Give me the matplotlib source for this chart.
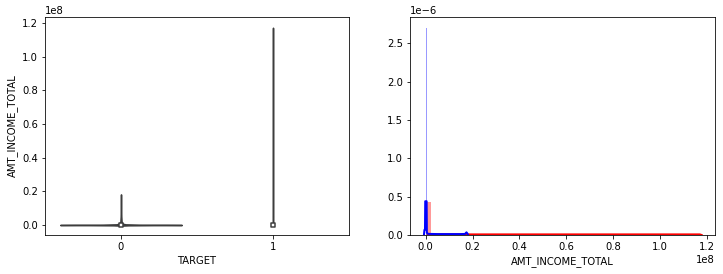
import numpy as np
import matplotlib
matplotlib.use('Agg')
from matplotlib import pyplot as plt

# violin profiles (income value, half width of violin)
target_groups = [0, 1]
violin0_y = [-4e5, -2e5, 0, 1e5, 2e5, 4e5, 8e5, 2e6, 5e6, 1e7, 1.8e7, 1.82e7]
violin0_w = [0.0, 0.05, 0.40, 0.30, 0.12, 0.03, 0.01, 0.004, 0.002, 0.001, 0.001, 0.0]
violin1_y = [-1e5, 0, 2e5, 1e6, 1e7, 5e7, 1.17e8, 1.172e8]
violin1_w = [0.0, 0.004, 0.003, 0.001, 0.0005, 0.0005, 0.0005, 0.0]

# inner box stats per group
box_q25 = [1.125e5, 1.125e5]
box_med = [1.47e5, 1.35e5]
box_q75 = [2.025e5, 2.025e5]
box_lo = [2.565e4, 2.565e4]
box_hi = [3.37e5, 3.37e5]

# histograms (density), 50 bins each
hist0_range = (2.565e4, 1.8e7)
hist0_density = [2.70e-6, 0.07e-6, 0.01e-6] + [0.0] * 47
hist1_range = (2.565e4, 1.17e8)
hist1_density = [0.43e-6] + [0.0] * 49

# kde curves
kde0_x = [-0.0075e8, -0.006e8, -0.005e8, -0.004e8, -0.003e8, -0.002e8, 0.004e8, 0.005e8,
          0.01e8, 0.05e8, 0.1e8, 0.15e8, 0.168e8, 0.174e8, 0.178e8, 0.181e8]
kde0_y = [0.0, 0.05e-6, 0.07e-6, 0.07e-6, 0.07e-6, 0.44e-6, 0.44e-6, 0.03e-6,
          0.015e-6, 0.012e-6, 0.012e-6, 0.012e-6, 0.014e-6, 0.035e-6, 0.02e-6, 0.0]
kde1_x = [0.01e8, 0.2e8, 0.5e8, 1.0e8, 1.17e8, 1.178e8]
kde1_y = [0.008e-6, 0.008e-6, 0.008e-6, 0.008e-6, 0.008e-6, 0.0]

violin_colors = ['#3274a1', '#e1812c']
gray = '#3d3d3d'

fig = plt.figure(figsize=(723 / 72, 274 / 72), dpi=72)
ax1 = fig.add_axes([45 / 723, 39 / 274, 304 / 723, 218 / 274])
ax2 = fig.add_axes([410 / 723, 39 / 274, 305 / 723, 218 / 274])

# left: violin plot
profiles = [(violin0_y, violin0_w), (violin1_y, violin1_w)]
for i, (ys, ws) in enumerate(profiles):
    ys = np.array(ys)
    ws = np.array(ws)
    ax1.fill_betweenx(ys, i - ws, i + ws, facecolor=violin_colors[i],
                      edgecolor=gray, linewidth=1.5)
    ax1.plot([i, i], [box_lo[i], box_hi[i]], color=gray, lw=1.5)
    ax1.plot([i, i], [box_q25[i], box_q75[i]], color=gray, lw=4.5, solid_capstyle='butt')
    ax1.scatter([i], [box_med[i]], s=16, marker='s', c='white', edgecolors=gray,
                linewidths=1.5, zorder=3)

ax1.set_xlim(-0.5, 1.5)
ax1.set_ylim(-0.0594e8, 1.2357e8)
ax1.set_xticks(target_groups)
ax1.set_xticklabels([str(t) for t in target_groups])
ax1.set_xlabel('TARGET')
ax1.set_ylabel('AMT_INCOME_TOTAL')

# right: distplots
edges0 = np.linspace(hist0_range[0], hist0_range[1], len(hist0_density) + 1)
edges1 = np.linspace(hist1_range[0], hist1_range[1], len(hist1_density) + 1)
ax2.bar(edges1[:-1], hist1_density, width=np.diff(edges1), align='edge',
        color='r', alpha=0.4, linewidth=0)
ax2.plot(kde1_x, kde1_y, color='r', lw=2)
ax2.bar(edges0[:-1], hist0_density, width=np.diff(edges0), align='edge',
        color='b', alpha=0.4, linewidth=0)
ax2.plot(kde0_x, kde0_y, color='b', lw=2)

ax2.set_xlim(-0.067e8, 1.235e8)
ax2.set_ylim(0, 2.842e-6)
ax2.set_xlabel('AMT_INCOME_TOTAL')

fig.savefig('out.png', dpi=72)
